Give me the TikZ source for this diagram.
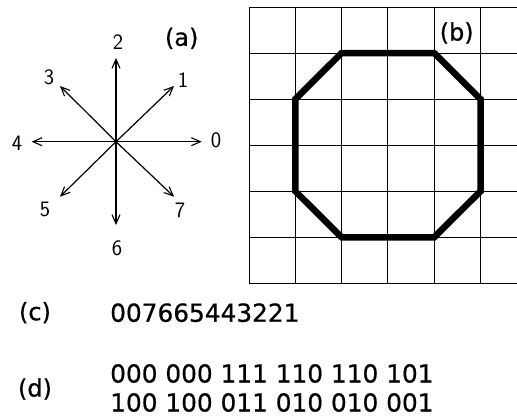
\documentclass[tikz,border=0pt]{standalone}
\usepackage{fontspec}
\usepackage{tikz}
\usetikzlibrary{positioning,arrows.meta,calc}
\newfontfamily\tagfont[FakeBold=0.6]{DejaVu Sans}
\definecolor{inkblack}{RGB}{0, 0, 0}

\begin{document}
\begin{tikzpicture}[x=1pt, y=-1pt]
\tikzset{
  dirarrow/.style={-{Straight Barb[length=9pt, width=8pt, line width=1.1pt]}, line width=1.2pt, inkblack},
  dirnum/.style={font=\sffamily\fontsize{22}{24}\selectfont, inner sep=0pt},
  gridline/.style={line width=0.9pt, inkblack},
  chain/.style={line width=6.5pt, inkblack, line join=miter},
  tag/.style={font=\tagfont\fontsize{24}{28}\selectfont, inner sep=0pt},
  code/.style={font=\tagfont\fontsize{24.8}{29}\selectfont, inner sep=0pt, anchor=west, align=left}
}
\useasboundingbox (0,0) rectangle (517,418);

% (a) the eight directions
\coordinate (o) at (116,141.7);
\coordinate (t0) at (201.7,141.7);
\coordinate (t1) at (174,86);
\coordinate (t2) at (116,58);
\coordinate (t3) at (60,86);
\coordinate (t4) at (31.7,141.7);
\coordinate (t5) at (60,196.7);
\coordinate (t6) at (116,225);
\coordinate (t7) at (174,196.7);
\foreach \d in {0,...,7} \draw[dirarrow] (o) -- (t\d);
\node[dirnum] (n0) at (216,140) {0};
\node[dirnum] (n1) at (183,80) {1};
\node[dirnum] (n2) at (118,42) {2};
\node[dirnum] (n3) at (49,77) {3};
\node[dirnum] (n4) at (17,143) {4};
\node[dirnum] (n5) at (45,209) {5};
\node[dirnum] (n6) at (117,248) {6};
\node[dirnum] (n7) at (180,210) {7};
\node[tag] (taga) at (181.7,38.3) {(a)};

% (b) grid and chain
\foreach \i in {0,...,5} \draw[gridline] (249+46.3*\i,7) -- (249+46.3*\i,283.3);
\foreach \j in {0,...,6} \draw[gridline] (249,7+46.05*\j) -- (517,7+46.05*\j);
\draw[chain] (249+46.3*2,7+46.05*1) -- (249+46.3*4,7+46.05*1)
  -- (249+46.3*5,7+46.05*2) -- (249+46.3*5,7+46.05*4)
  -- (249+46.3*4,7+46.05*5) -- (249+46.3*2,7+46.05*5)
  -- (249+46.3*1,7+46.05*4) -- (249+46.3*1,7+46.05*2) -- cycle;
\node[tag] (tagb) at (456.7,33) {(b)};

% (c) and (d)
\node[tag] (tagc) at (35,312.7) {(c)};
\node[code] (codec) at (110,312.7) {007665443221};
\node[tag] (tagd) at (35,389) {(d)};
\node[code] (coded) at (110,388) {000 000 111 110 110 101\\100 100 011 010 010 001};
\end{tikzpicture}
\end{document}
